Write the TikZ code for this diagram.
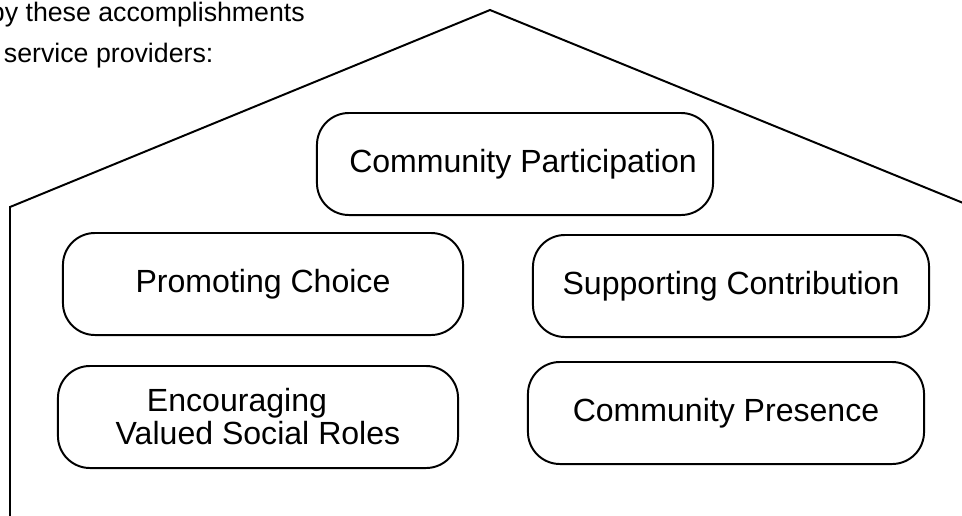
\documentclass[tikz,border=0pt]{standalone}
\usepackage{fontspec}
\setmainfont{Liberation Sans}
\usetikzlibrary{positioning}

\begin{document}
\begin{tikzpicture}[x=0.025cm, y=-0.025cm, line width=1.4pt,
  main/.style = {draw, rounded corners=0.8cm, minimum width=9.9cm, minimum height=2.55cm, inner sep=0pt, font=\fontsize{22.8}{23.5}\selectfont},
  head/.style = {anchor=base west, inner sep=0pt, font=\fontsize{19}{23}\selectfont}]
\useasboundingbox (0,0) rectangle (962,515);
\clip (0,0) rectangle (962,515);
% text above the house, cut off at the page edge
\node[head] (top1) at (-11,21) {by these accomplishments};
\node[head] (top2) at (3,62) {service providers:};
% house outline
\coordinate (peak) at (490,10);
\coordinate (eaveL) at (10,207);
\coordinate (eaveR) at (1000,218);
\coordinate (floorL) at (10,530);
\draw (floorL) -- (eaveL) -- (peak) -- (eaveR);
% accomplishments
\node[main] (P) at (515,164) {\hspace*{0.4cm}Community Participation};
\node[main, minimum width=10cm] (C) at (263,284) {Promoting Choice};
\node[main] (S) at (731,286) {Supporting Contribution};
\node[main, minimum width=10cm, align=center] (R) at (258,417) {Encouraging\hspace*{1.05cm}\\Valued Social Roles};
\node[main] (Pr) at (726,413) {Community Presence};
\end{tikzpicture}
\end{document}
